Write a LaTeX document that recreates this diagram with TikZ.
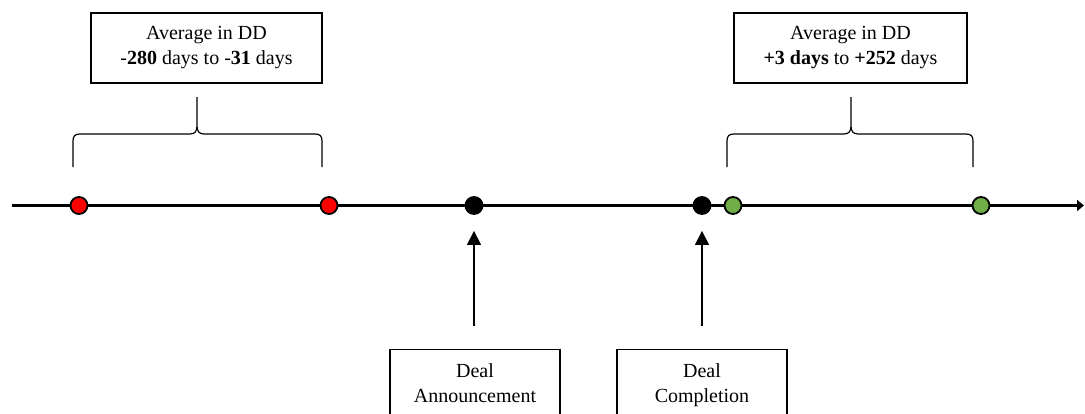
\documentclass[tikz,border=0pt]{standalone}
\usepackage{fontspec}
\setmainfont{Liberation Serif}
\usetikzlibrary{arrows.meta}
\definecolor{dotgreen}{RGB}{112,173,71}
\begin{document}
\begin{tikzpicture}[x=1pt,y=-1pt,
  box/.style={draw, line width=1.2pt, align=center, font=\fontsize{20}{25}\selectfont, inner xsep=0pt},
  topbox/.style={box, inner ysep=0pt, minimum height=70pt},
  botbox/.style={box, anchor=north, inner ysep=14pt, minimum width=170pt},
  dot/.style={circle, draw, line width=1.8pt, minimum size=17pt, inner sep=0pt},
  bracestyle/.style={line width=1.2pt},
  uparrow/.style={line width=1.2pt, -{Triangle[length=14pt,width=14pt]}},
  timeline/.style={line width=2.8pt, -{Triangle[length=7pt,width=11pt]}}]
\useasboundingbox (0,0) rectangle (1085,413);
\clip (0,0) rectangle (1085,413);

% boxes
\node[topbox, minimum width=231pt] (boxL) at (206.5,48) {Average in DD\\-\textbf{280} days to -\textbf{31} days};
\node[topbox, minimum width=233pt] (boxR) at (850.5,48) {Average in DD\\\textbf{+3 days} to \textbf{+252} days};
\node[botbox] (ann) at (475,349) {Deal\\Announcement};
\node[botbox] (comp) at (702,349) {Deal\\Completion};

% braces
\draw[bracestyle] (73,167) -- (73,141) .. controls (73,136) and (75,134) .. (80,134) -- (190,134)
  .. controls (195,134) and (197,131) .. (197,126) -- (197,97) -- (197,126)
  .. controls (197,131) and (199,134) .. (204,134) -- (315,134)
  .. controls (320,134) and (322,136) .. (322,141) -- (322,167);
\draw[bracestyle] (727,167) -- (727,141) .. controls (727,136) and (729,134) .. (734,134) -- (844,134)
  .. controls (849,134) and (851,131) .. (851,126) -- (851,97) -- (851,126)
  .. controls (851,131) and (853,134) .. (858,134) -- (966,134)
  .. controls (971,134) and (973,136) .. (973,141) -- (973,167);

% timeline
\coordinate (tl0) at (12,205.5);
\coordinate (tl1) at (1084,205.5);
\draw[timeline] (tl0) -- (tl1);

% dots
\node[dot, fill=red] (r1) at (79,205.5) {};
\node[dot, fill=red] (r2) at (329,205.5) {};
\node[dot, fill=black] (dA) at (474,205.5) {};
\node[dot, fill=black] (dC) at (702,205.5) {};
\node[dot, fill=dotgreen] (g1) at (733,205.5) {};
\node[dot, fill=dotgreen] (g2) at (981,205.5) {};

% arrows
\draw[uparrow, shorten <=23.5pt, shorten >=16pt] (ann.north -| dA) -- (dA.south);
\draw[uparrow, shorten <=23.5pt, shorten >=16pt] (comp.north) -- (dC.south);
\end{tikzpicture}
\end{document}
